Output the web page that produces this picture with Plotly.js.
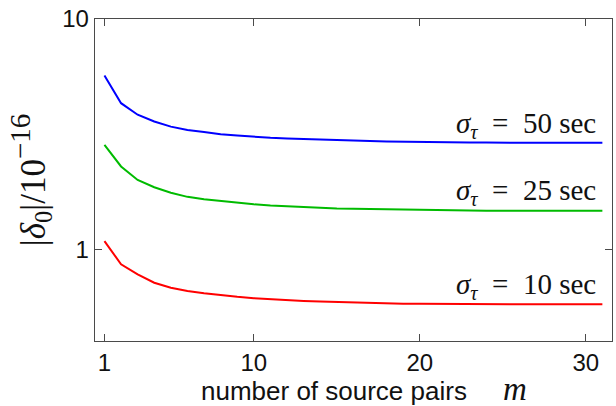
<!DOCTYPE html>
<html>
<head>
<meta charset="utf-8">
<script src="https://cdn.plot.ly/plotly-3.0.1.min.js"></script>
<style>html,body{margin:0;padding:0;background:#fff}#chart{width:616px;height:406px}</style>
</head>
<body>
<div id="chart"></div>
<script>
const m = [1,2,3,4,5,6,7,8,9,10,11,12,13,14,15,16,17,18,19,20,21,22,23,24,25,26,27,28,29,30,31];
const sigma50 = [5.69,4.31,3.84,3.59,3.41,3.30,3.23,3.16,3.12,3.08,3.05,3.03,3.01,2.99,2.97,2.96,2.95,2.94,2.93,2.92,2.92,2.91,2.91,2.91,2.90,2.90,2.90,2.90,2.90,2.90,2.90];
const sigma25 = [2.84,2.29,2.00,1.86,1.76,1.69,1.65,1.62,1.59,1.57,1.55,1.535,1.525,1.515,1.505,1.50,1.495,1.49,1.485,1.48,1.478,1.475,1.473,1.472,1.47,1.47,1.47,1.47,1.47,1.47,1.47];
const sigma10 = [1.086,0.861,0.779,0.716,0.681,0.659,0.644,0.632,0.622,0.614,0.607,0.602,0.597,0.593,0.590,0.587,0.585,0.583,0.581,0.580,0.579,0.578,0.577,0.577,0.577,0.577,0.577,0.577,0.577,0.577,0.577];
const seriesNames = ['σ_τ = 50 sec','σ_τ = 25 sec','σ_τ = 10 sec'];
const xMajor = [1,10,20,30];
const xMinor = [2,3,4,5,6,7,8,9,11,12,13,14,15,16,17,18,19,21,22,23,24,25,26,27,28,29,31];
const yMajor = [1,10];
const yMinor = [0.5,0.6,0.7,0.8,0.9,2,3,4,5,6,7,8,9];

const colors = ['#0000ff','#00bb00','#ff0000'];
const data = [sigma50, sigma25, sigma10].map((ys,i)=>({
  x: m, y: ys, type:'scatter', mode:'lines', name: seriesNames[i],
  xaxis:'x2', yaxis:'y2',
  line:{color:colors[i], width:2}, hoverinfo:'skip'
}));

const serif = "'Liberation Serif', 'DejaVu Serif', serif";
const sans = "'Liberation Sans', Arial, sans-serif";
const axisColor = '#4a4a4a';
const xRange = [0.43,31.58];
const yRange = [Math.log10(0.4), 1];

function lab(val){
  return '<i>σ</i><sub><i>τ</i></sub>&nbsp;&nbsp;=&nbsp;&nbsp;' + val + '&nbsp;sec';
}
const labelY = [0.672, 0.462, 0.172];
const labelVals = ['50','25','10'];

const annotations = labelVals.map((v,i)=>({
  xref:'paper', yref:'paper', x:0.973, y:labelY[i], xanchor:'right', yanchor:'middle',
  text: lab(v), showarrow:false, font:{family:serif, size:29, color:'#111'}
}));
annotations.push({
  xref:'paper', yref:'paper', x:0.52, y:-0.148, xanchor:'center', yanchor:'middle',
  text:'number of source pairs&nbsp;&nbsp;&nbsp;&nbsp;&nbsp;<span style="font-family:\'Liberation Serif\';font-size:33px"><i>m</i></span>',
  showarrow:false, font:{family:sans, size:26, color:'#111'}
});

const layout = {
  width:616, height:406,
  margin:{l:95, r:4, t:19, b:65},
  paper_bgcolor:'#fff', plot_bgcolor:'#fff',
  showlegend:false,
  xaxis:{
    range:xRange, showgrid:false, zeroline:false,
    showline:true, linecolor:axisColor, linewidth:1.3, mirror:'ticks',
    ticks:'inside', ticklen:4, tickwidth:1, tickcolor:axisColor,
    tickmode:'array', tickvals:xMinor, showticklabels:false
  },
  yaxis:{
    type:'log', range:yRange, showgrid:false, zeroline:false,
    showline:true, linecolor:axisColor, linewidth:1.3, mirror:'ticks',
    ticks:'inside', ticklen:4, tickwidth:1, tickcolor:axisColor,
    tickmode:'array', tickvals:yMinor, showticklabels:false
  },
  xaxis2:{
    overlaying:'x', anchor:'y2', side:'bottom',
    range:xRange, showgrid:false, zeroline:false,
    showline:true, linecolor:axisColor, linewidth:1.3, mirror:'ticks',
    ticks:'inside', ticklen:7, tickwidth:1, tickcolor:axisColor,
    tickmode:'array', tickvals:xMajor, ticktext:xMajor.map(String),
    tickfont:{family:sans, size:24, color:'#111'}
  },
  yaxis2:{
    overlaying:'y', anchor:'x2', side:'left',
    type:'log', range:yRange, showgrid:false, zeroline:false,
    showline:true, linecolor:axisColor, linewidth:1.3, mirror:'ticks',
    ticks:'inside', ticklen:7, tickwidth:1, tickcolor:axisColor,
    tickmode:'array', tickvals:yMajor, ticktext:yMajor.map(String),
    tickfont:{family:sans, size:24, color:'#111'},
    title:{text:'|<i>δ</i><sub>0</sub>|/10<sup><span style="font-size:29px">−16</span></sup>', font:{family:serif, size:35, color:'#111'}, standoff:6}
  },
  annotations: annotations
};

Plotly.newPlot('chart', data, layout, {staticPlot:true, displayModeBar:false});
</script>
</body>
</html>
